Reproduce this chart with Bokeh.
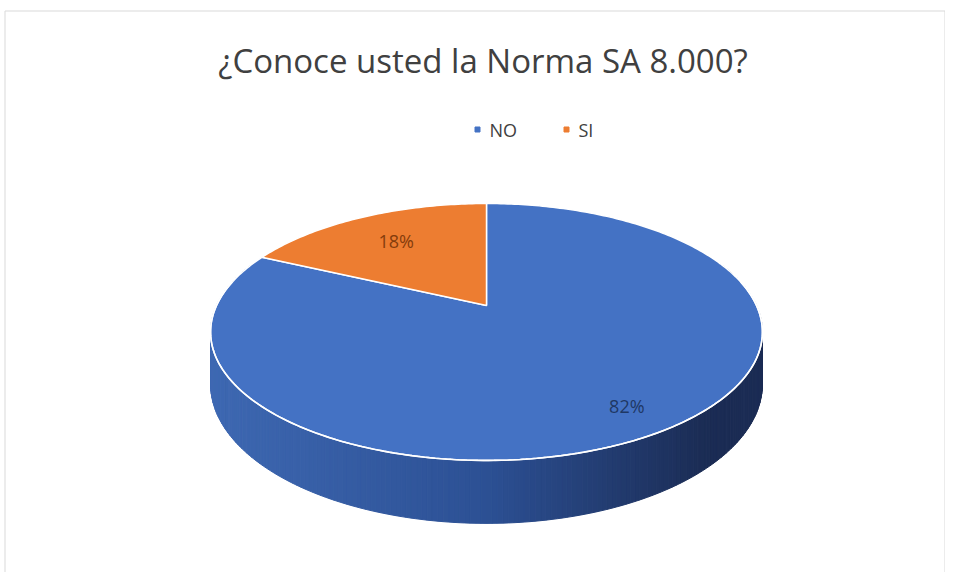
import numpy as np
from bokeh.plotting import figure
from bokeh.models import Range1d
from bokeh.core.properties import value
from bokeh.embed import file_html
from bokeh.resources import INLINE

# ---- data ----
title_text = "¿Conoce usted la Norma SA 8.000?"
categories = ["NO", "SI"]
values = [82, 18]
slice_colors = ["#4472C4", "#ED7D31"]
label_colors = ["#1F3864", "#843C0C"]

# ---- layout constants (pixel space == data space) ----
CX, CY = 486.0, 305.0          # projected pie centre
A, B, K = 270.0, 123.0, 0.206  # perspective projection of the pie disk
DEPTH = 50.0                   # pie thickness
LABEL_R = [0.83, 0.70]
FONT = "Open Sans"

p = figure(width=945, height=572, x_range=Range1d(0, 945), y_range=Range1d(572, 0),
           output_backend="svg", toolbar_location=None, min_border=0,
           x_axis_location=None, y_axis_location=None)
p.grid.visible = False
p.outline_line_color = None
p.background_fill_color = "white"
p.border_fill_color = "white"


def proj(theta, r=1.0):
    u = r * np.sin(theta)
    v = r * np.cos(theta)
    w = 1 + K * v
    return CX + A * u / w, CY - B * v / w


def drop(theta):
    return DEPTH / (1 + K * np.cos(theta))


# chart border
p.line([4.5, 4.5, 944.5, 944.5], [572, 10.5, 10.5, 572], line_color="#D9D9D9", line_width=1)

# ---- side of the pie (front half, shaded) ----
total = float(sum(values))
th = np.linspace(np.pi / 2 - 0.35, 3 * np.pi / 2 + 0.35, 241)
c_left = np.array([62, 104, 178])
c_mid = np.array([44, 80, 148])
c_right = np.array([27, 44, 84])
xl, xr = CX - A * 1.02, CX + A * 1.02
order = np.argsort(-np.cos((th[:-1] + th[1:]) / 2))
segs = []
for i in range(len(th) - 1):
    t0, t1 = th[i], th[i + 1]
    x0, y0 = proj(t0)
    x1, y1 = proj(t1)
    qx = [x0, x1, x1, x0]
    qy = [y0, y1, y1 + drop(t1), y0 + drop(t0)]
    xm = (x0 + x1) / 2
    f = min(max((xm - xl) / (xr - xl), 0), 1)
    if f < 0.5:
        c = c_left + (c_mid - c_left) * (f / 0.5)
    else:
        c = c_mid + (c_right - c_mid) * min((f - 0.5) / 0.4, 1)
    segs.append((qx, qy, "#%02x%02x%02x" % tuple(int(round(v)) for v in c)))
xs_side, ys_side, cols = [], [], []
for i in order:
    qx, qy, col = segs[i]
    xs_side.append(qx)
    ys_side.append(qy)
    cols.append(col)
p.patches(xs_side, ys_side, fill_color=cols, line_color=cols, line_width=1)

# ---- top face slices ----
xs_top, ys_top = [], []
start = 0.0
mids = []
for val in values:
    a0 = start / total * 2 * np.pi
    a1 = (start + val) / total * 2 * np.pi
    n = max(int(val * 4), 8)
    tt = np.linspace(a0, a1, n)
    ax, ay = proj(tt)
    xs_top.append([CX] + list(ax))
    ys_top.append([CY] + list(ay))
    mids.append((a0 + a1) / 2)
    start += val
p.patches(xs_top, ys_top, fill_color=slice_colors, line_color="white", line_width=1.5)

# front rim highlight
tr = np.linspace(np.pi / 2 - 0.2, 3 * np.pi / 2 + 0.2, 200)
rx, ry = proj(tr)
p.line(rx, ry, line_color="white", line_width=1.6)

# ---- data labels ----
lx, ly, ltxt = [], [], []
for val, m, r in zip(values, mids, LABEL_R):
    x, y = proj(m, r)
    lx.append(x)
    ly.append(y)
    ltxt.append(f"{round(val / total * 100)}%")
p.text(lx, ly, text=ltxt, text_color=label_colors, text_font=value(FONT),
       text_font_size=value("18px"), text_align="center", text_baseline="middle")

# ---- title ----
p.text([482.5], [60], text=[title_text], text_color="#404040", text_font=value(FONT),
       text_font_size=value("33px"), text_align="center", text_baseline="middle")

# ---- legend ----
LEG_X0, LEG_STEP, LEG_Y = 477, 89, 129
for i, (cat, col) in enumerate(zip(categories, slice_colors)):
    x = LEG_X0 + i * LEG_STEP
    p.scatter([x], [LEG_Y], marker="square", size=5, fill_color=col, line_color=col)
    p.text([x + 12], [LEG_Y], text=[cat], text_color="#404040", text_font=value(FONT),
           text_font_size=value("18px"), text_align="left", text_baseline="middle")

open("out.html", "w").write(file_html(p, INLINE))
